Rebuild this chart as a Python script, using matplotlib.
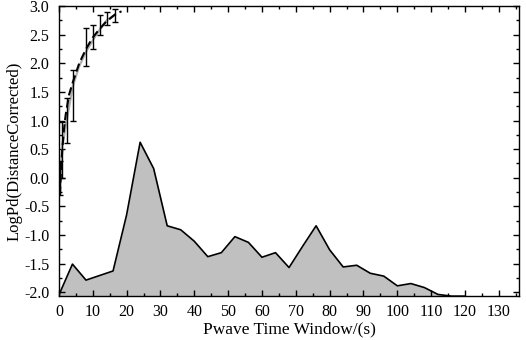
import matplotlib
matplotlib.use("Agg")
import matplotlib.pyplot as plt
from matplotlib.ticker import MultipleLocator, FormatStrFormatter

# Filled Pd series (time window s, LogPd)
pd_time = [0, 4, 8, 12, 16, 20, 24, 28, 32, 36, 40, 44, 48, 52, 56, 60, 64, 68,
           72, 76, 80, 84, 88, 92, 96, 100, 104, 108, 112, 116, 120]
pd_value = [-2.05, -1.51, -1.79, -1.71, -1.63, -0.65, 0.62, 0.16, -0.84, -0.91,
            -1.11, -1.38, -1.31, -1.03, -1.13, -1.39, -1.31, -1.57, -1.2, -0.84,
            -1.26, -1.56, -1.53, -1.67, -1.72, -1.89, -1.85, -1.92, -2.04, -2.07, -2.07]

# Observed mean curve (gray) and error-bar spans
obs_time = [0.2, 1.0, 2.3, 4.1, 6.0, 8.0, 10.2, 12.2, 14.1, 16.6]
obs_value = [-0.3, 0.55, 1.0, 1.6, 1.95, 2.2, 2.42, 2.6, 2.75, 2.85]
err_time = [0.3, 1.0, 2.3, 4.1, 8.0, 10.2, 12.2, 14.1, 16.6]
err_low = [-0.3, 0.0, 0.6, 1.0, 1.95, 2.25, 2.49, 2.67, 2.72]
err_high = [0.3, 0.97, 1.4, 1.88, 2.61, 2.67, 2.84, 2.9, 2.95]
err_center = [0.0, 0.55, 1.0, 1.6, 2.2, 2.42, 2.6, 2.75, 2.85]

# Fitted curve (black dashed)
fit_time = [0.3, 0.6, 1.0, 1.5, 2.0, 3.0, 4.0, 6.0, 8.0, 10.0, 12.0, 14.0, 16.5, 18.5]
fit_value = [-0.3, 0.1, 0.5, 0.85, 1.1, 1.45, 1.65, 2.0, 2.25, 2.45, 2.6, 2.73, 2.85, 2.91]

x_min, x_max = 0, 136
y_min, y_max = -2.07, 3.0

plt.rcParams['font.family'] = ['Liberation Serif', 'DejaVu Serif']

fig = plt.figure(figsize=(5.26, 3.4), dpi=100)
ax = fig.add_axes([0.112, 0.129, 0.875, 0.853])

ax.fill_between(pd_time, pd_value, y_min, color='#c0c0c0', linewidth=0)
ax.plot(pd_time, pd_value, color='black', linewidth=1.2)

ax.plot(obs_time, obs_value, color='#b0b0b0', linewidth=1.6)
yerr = [[c - l for c, l in zip(err_center, err_low)],
        [h - c for c, h in zip(err_center, err_high)]]
ax.errorbar(err_time, err_center, yerr=yerr, fmt='none', ecolor='black',
            elinewidth=1.0, capsize=2, capthick=1.0)
ax.plot(fit_time, fit_value, color='black', linewidth=1.5, linestyle=(0, (4, 2)))

ax.set_xlim(x_min, x_max)
ax.set_ylim(y_min, y_max)
ax.xaxis.set_major_locator(MultipleLocator(10))
ax.xaxis.set_minor_locator(MultipleLocator(5))
ax.yaxis.set_major_locator(MultipleLocator(0.5))
ax.yaxis.set_minor_locator(MultipleLocator(0.25))
ax.yaxis.set_major_formatter(FormatStrFormatter('%.1f'))
ax.tick_params(which='both', direction='in', top=True, right=True, labelsize=11.5, width=1)
ax.tick_params(which='major', length=4, pad=6)
ax.tick_params(which='minor', length=2)
ax.tick_params(axis='y', which='major', pad=7)
for s in ax.spines.values():
    s.set_linewidth(1.0)

ax.set_xlabel('Pwave Time Window/(s)', fontsize=12.5, labelpad=1)
ax.set_ylabel('LogPd(DistanceCorrected)', fontsize=12, labelpad=1)

fig.savefig('out.png', dpi=100)
